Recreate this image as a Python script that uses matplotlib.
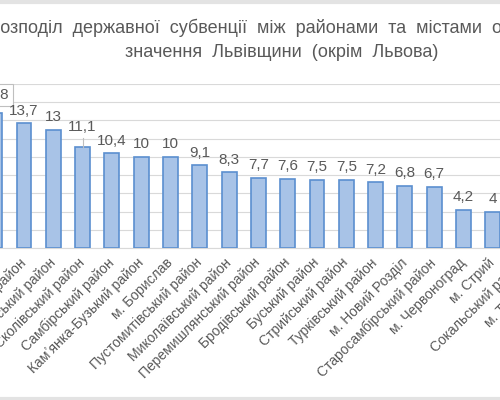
import matplotlib
matplotlib.use('Agg')
import matplotlib.pyplot as plt

plt.rcParams['font.family'] = ['Liberation Sans', 'DejaVu Sans']

# дані (значення з діаграми, %)
districts = ['Жовківський район', 'Яворівський район', 'Золочівський район',
             'Сколівський район', 'Самбірський район', 'Кам\u02bcянка-Бузький район',
             'м. Борислав', 'Пустомитівський район', 'Миколаївський район',
             'Перемишлянський район', 'Бродівський район', 'Буський район',
             'Стрийський район', 'Турківський район', 'м. Новий Розділ',
             'Старосамбірський район', 'м. Червоноград', 'м. Стрий',
             'Сокальський район', 'м. Трускавець']
shares = [14.8, 13.7, 13, 11.1, 10.4, 10, 10, 9.1, 8.3, 7.7, 7.6, 7.5, 7.5,
          7.2, 6.8, 6.7, 4.2, 4, 3.9, 3.6]
title_1 = 'Розподіл  державної  субвенції  між  районами  та  містами  обласного'
title_2 = 'значення  Львівщини  (окрім  Львова)'

grey = '#595959'
W, H = 500, 400
n = len(districts)
step = 29.3          # px between categories
x0 = -5.3            # px centre of first category

fig = plt.figure(figsize=(5, 4), dpi=100)
left = (x0 - step / 2) / W
ax = fig.add_axes([left, (H - 248) / H, step * n / W, (248 - 84) / H])

xs = list(range(n))
ax.bar(xs, shares, width=0.51, color='#a8c3e7', edgecolor='#5b8fcf',
       linewidth=1.2, zorder=3)
ax.set_xlim(-0.5, n - 0.5)
ax.set_ylim(0, 18)
ax.set_yticks(range(0, 19, 2))
ax.yaxis.grid(True, color='#d9d9d9', linewidth=0.8, zorder=0)
ax.tick_params(axis='y', length=0, labelleft=False)
ax.tick_params(axis='x', length=0, pad=9)
for s in ['left', 'right', 'top']:
    ax.spines[s].set_visible(False)
ax.spines['bottom'].set_color('#d9d9d9')

ax.set_xticks(xs)
ax.set_xticklabels(districts, rotation=45, ha='right', va='center',
                   rotation_mode='anchor', fontsize=10, color=grey)

for i, v in enumerate(shares):
    txt = ('%g' % v).replace('.', ',')
    if i == 0:
        ax.annotate(txt, (i, v), xytext=(0, 8), textcoords='offset points',
                    ha='center', va='bottom', fontsize=11, color=grey,
                    bbox=dict(boxstyle='square,pad=0.25', fc='white', ec='#bfbfbf', lw=0.8))
    elif i == 3:
        # підпис з лінією-виноскою
        ax.annotate(txt, (i, v), xytext=(0, 9), textcoords='offset points',
                    ha='center', va='bottom', fontsize=11, color=grey)
        ax.plot([i, i], [v, v + 0.95], color='#bfbfbf', lw=0.8, zorder=4)
    else:
        ax.annotate(txt, (i, v), xytext=(0, 4), textcoords='offset points',
                    ha='center', va='bottom', fontsize=11, color=grey)

fig.text(283 / W, 1 - 33 / H, title_1, ha='center', va='baseline', fontsize=13, color=grey)
fig.text(282 / W, 1 - 57 / H, title_2, ha='center', va='baseline', fontsize=13, color=grey)

# рамка скриншота
fig.add_artist(plt.Line2D([0, 1], [1 - 1.5 / H, 1 - 1.5 / H], color='#e3e3e3', lw=3))
fig.add_artist(plt.Line2D([0, 1], [1.5 / H, 1.5 / H], color='#e3e3e3', lw=3))

plt.savefig('out.png', dpi=100)
